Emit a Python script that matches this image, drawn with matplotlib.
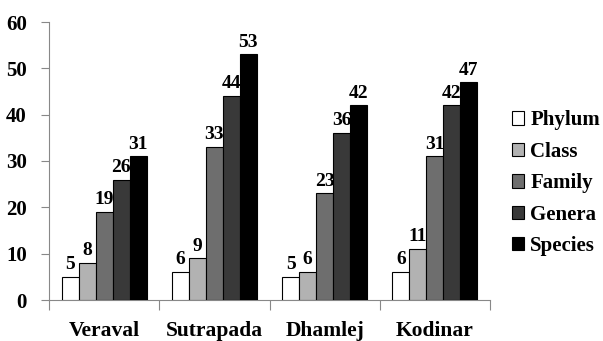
import matplotlib.pyplot as plt
import numpy as np

# taxa counts per site
sites = ['Veraval', 'Sutrapada', 'Dhamlej', 'Kodinar']
ranks = ['Phylum', 'Class', 'Family', 'Genera', 'Species']
phylum = [5, 6, 5, 6]
klass = [8, 9, 6, 11]
family = [19, 33, 23, 31]
genera = [26, 44, 36, 42]
species = [31, 53, 42, 47]
colors = ['#ffffff', '#b2b2b2', '#6e6e6e', '#393939', '#000000']

plt.rcParams['font.family'] = ['Liberation Serif', 'DejaVu Serif']
plt.rcParams['font.weight'] = 'bold'

fig = plt.figure(figsize=(6.03, 3.41), dpi=100)
ax = fig.add_axes([49/603, 41/341, 441/603, 278/341])

x = np.arange(len(sites))
w = 1/6.5
series = [phylum, klass, family, genera, species]
for i, vals in enumerate(series):
    pos = x + (i - 2) * w
    bars = ax.bar(pos, vals, w, color=colors[i], edgecolor='black',
                  linewidth=0.8, label=ranks[i], zorder=3)
    for b, v in zip(bars, vals):
        ax.text(b.get_x() + b.get_width()/2, v + 0.8, str(v),
                ha='center', va='bottom', fontsize=14, fontweight='bold')

ax.set_xlim(-0.5, len(sites) - 0.5)
ax.set_ylim(0, 60)
ax.set_yticks(range(0, 61, 10))
ax.set_xticks(x)
ax.set_xticklabels(sites)
ax.set_xticks(np.arange(-0.5, len(sites)), minor=True)
ax.tick_params(axis='x', which='major', length=0, pad=15, labelsize=15.5)
ax.tick_params(axis='x', which='minor', length=7, color='#888888', width=0.8)
ax.tick_params(axis='y', length=6, color='#888888', width=0.8, pad=10,
               labelsize=15)

for s in ['top', 'right']:
    ax.spines[s].set_visible(False)
for s in ['left', 'bottom']:
    ax.spines[s].set_color('#888888')
    ax.spines[s].set_linewidth(0.8)

ax.legend(loc='center left', bbox_to_anchor=(1.03, 0.42), frameon=False,
          fontsize=15, handlelength=0.6, handleheight=0.6, handletextpad=0.3,
          labelspacing=0.55, borderaxespad=0)

fig.savefig('out.png', dpi=100)
